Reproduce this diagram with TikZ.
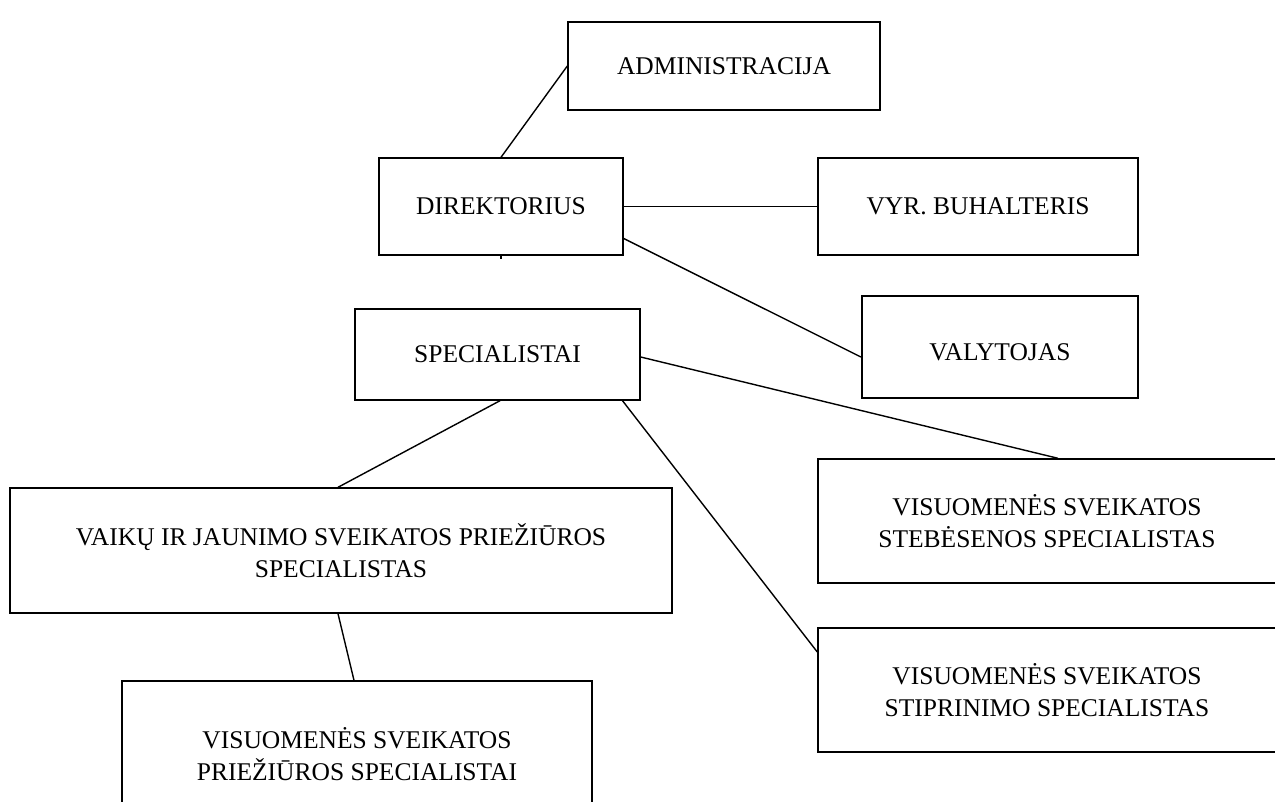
\documentclass[tikz,border=0pt]{standalone}
\usepackage{fontspec}
\setmainfont{Liberation Serif}
\begin{document}
\begin{tikzpicture}[x=1pt,y=-1pt,
  box/.style={draw,line width=1.4pt,rectangle,inner sep=0pt,align=center,
    font=\fontsize{25.5}{32}\selectfont},
  link/.style={line width=1.4pt}]
\useasboundingbox (0,0) rectangle (1275,801);
\clip (0,0) rectangle (1275,801);
\node[box,minimum width=312,minimum height=88] (adm) at (724,66) {ADMINISTRACIJA};
\node[box,minimum width=244,minimum height=97] (dir) at (501,206.5) {DIREKTORIUS};
\node[box,minimum width=320,minimum height=97] (vyr) at (978,206.5) {VYR. BUHALTERIS};
\node[box,line width=2.2pt,minimum width=276,minimum height=102] (val) at (1000,347) {\raisebox{-5pt}[\height][\depth]{VALYTOJAS}};
\node[box,minimum width=285,minimum height=91] (spec) at (497.5,354.5) {SPECIALISTAI};
\node[box,minimum width=458,minimum height=124] (steb) at (1047,521) {VISUOMENĖS SVEIKATOS\\STEBĖSENOS SPECIALISTAS};
\node[box,minimum width=662,minimum height=125] (vaik) at (341,550.5) {VAIKŲ IR JAUNIMO SVEIKATOS PRIEŽIŪROS\\SPECIALISTAS};
\node[box,minimum width=458,minimum height=124] (stip) at (1047,690) {VISUOMENĖS SVEIKATOS\\STIPRINIMO SPECIALISTAS};
\node[box,minimum width=470,minimum height=146] (priez) at (357,754) {VISUOMENĖS SVEIKATOS\\PRIEŽIŪROS SPECIALISTAI};
\coordinate (stub) at (501,259);
\draw[link] (adm.west) -- (dir.north);
\draw[link] (dir.east) -- (vyr.west);
\draw[link] ([yshift=-32]dir.east) -- ([yshift=-10]val.west);
\draw[link] (dir.south) -- (stub);
\draw[link] ([xshift=2.5]spec.south) -- ([xshift=-3]vaik.north);
\draw[link] ([yshift=-2.5]spec.east) -- ([xshift=11]steb.north);
\draw[link] ([xshift=125]spec.south) -- ([yshift=38]stip.west);
\draw[link] ([xshift=-3]vaik.south) -- ([xshift=-3]priez.north);
\end{tikzpicture}
\end{document}
